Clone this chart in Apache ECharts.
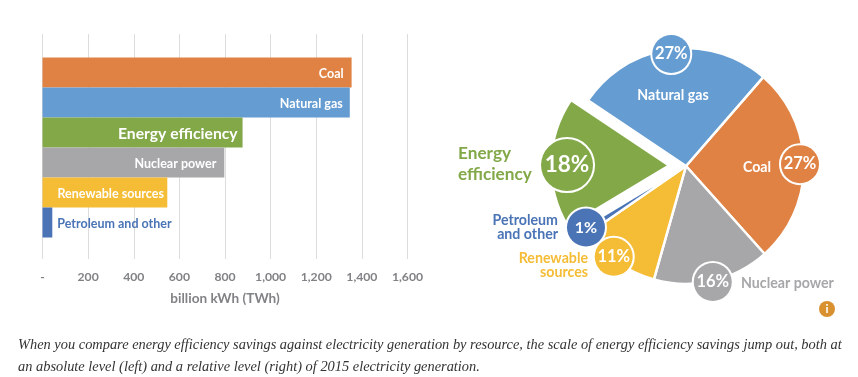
<!DOCTYPE html>
<html><head><meta charset="utf-8">
<style>html,body{margin:0;padding:0;background:#fff}#c{width:858px;height:377px}</style>
<script src="https://cdn.jsdelivr.net/npm/echarts@6/dist/echarts.min.js"></script>
</head><body><div id="c"></div>
<script>
const barCategories = ['Coal','Natural gas','Energy efficiency','Nuclear power','Renewable sources','Petroleum and other'];
const barValues = [1355,1347,877,797,547,43];
const barColors = ['#e08244','#659cd1','#82a848','#a7a7a9','#f5bc35','#4a74b6'];
const tickLabels = {0:'-',200:'200',400:'400',600:'600',800:'800',1000:'1,000',1200:'1,200',1400:'1,400',1600:'1,600'};
const pieNames = ['Coal','Nuclear power','Renewable\nsources','Petroleum\nand other','Energy\nefficiency','Natural gas'];
const pieValues = [27,16,11,1,18,27];
const pieColors = ['#e08244','#a7a7a9','#f5bc35','#4a74b6','#82a848','#659cd1'];
const caption = 'When you compare energy efficiency savings against electricity generation by resource, the scale of energy efficiency savings jump out, both at\nan absolute level (left) and a relative level (right) of 2015 electricity generation.';

const FONT = 'Lato';
const GRAY = '#808285';
const center = [686,166];
const nameStyle = [
  {x:757,y:167,align:'center',color:'#fff',fontSize:14.2,lh:15},
  {x:741,y:283,align:'left',color:'#a7a7a9',fontSize:14.2,lh:15},
  {x:588,y:265.5,align:'right',color:'#f5bc35',fontSize:14.2,lh:14.5},
  {x:558,y:227.5,align:'right',color:'#4a74b6',fontSize:14.2,lh:14.5},
  {x:458,y:164,align:'left',color:'#82a848',fontSize:17.2,lh:20.5},
  {x:673,y:95,align:'center',color:'#fff',fontSize:14.2,lh:15}
];
const badgeStyle = [
  {d:[-5,-1],s:38,f:16.5},{d:[0,0],s:38,f:16.5},{d:[-3,-6],s:38,f:16.5},
  {d:[0,-3],s:38,f:16},{d:[0,2],s:52,f:22.5},{d:[1,6],s:38,f:16.5}
];
const barLabel = [
  {position:'insideRight',distance:8,color:'#fff',fontSize:12.5},
  {position:'insideRight',distance:7,color:'#fff',fontSize:12.5},
  {position:'insideRight',distance:5,color:'#fff',fontSize:15.7},
  {position:'insideRight',distance:8,color:'#fff',fontSize:12.5},
  {position:'insideLeft',distance:15,color:'#fff',fontSize:12.5},
  {position:'right',distance:5,color:'#4a74b6',fontSize:12.5}
];

const chart = echarts.init(document.getElementById('c'),null,{renderer:'canvas'});
chart.setOption({
  animation:false,
  backgroundColor:'#fff',
  title:{text:caption,left:18,top:334,textStyle:{fontFamily:'"Liberation Serif"',fontStyle:'italic',fontWeight:'normal',fontSize:14.4,lineHeight:22,color:'#333'},padding:0},
  grid:[
    {left:42.5,width:365,top:34,height:225},
    {left:42.5,width:365,top:57.5,height:180}
  ],
  xAxis:[
    {gridIndex:0,type:'value',min:0,max:1600,interval:200,
     axisLine:{show:false},axisTick:{show:false},
     splitLine:{show:true,lineStyle:{color:'#dddddd',width:1}},
     axisLabel:{margin:12,color:GRAY,fontFamily:FONT,fontWeight:'bold',fontSize:12.2,formatter:v=>tickLabels[v]},
     name:'billion kWh (TWh)',nameLocation:'middle',nameGap:33,
     nameTextStyle:{color:GRAY,fontFamily:FONT,fontWeight:'bold',fontSize:13.6}},
    {gridIndex:1,type:'value',min:0,max:1600,interval:200,show:false}
  ],
  yAxis:[
    {gridIndex:0,type:'category',data:barCategories,inverse:true,show:false},
    {gridIndex:1,type:'category',data:barCategories,inverse:true,show:false}
  ],
  series:[
    {type:'bar',xAxisIndex:1,yAxisIndex:1,barCategoryGap:0,silent:true,
     data:barValues.map((v,i)=>({value:v,itemStyle:{color:barColors[i]},
       label:Object.assign({show:true,formatter:barCategories[i],fontFamily:FONT,fontWeight:'bold',offset:[0,1]},barLabel[i])}))},
    {type:'pie',center:center,radius:[0,118],startAngle:49,silent:true,
     selectedMode:'single',selectedOffset:17,
     itemStyle:{borderColor:'#fff',borderWidth:2.5},labelLine:{show:false},label:{show:false},
     data:pieValues.map((v,i)=>({value:v,name:pieNames[i],selected:i===4,
       itemStyle:{color:pieColors[i]},
       select:{itemStyle:{color:pieColors[i],borderColor:'#fff',borderWidth:2.5}}}))},
    {type:'pie',center:center,radius:[116,116],startAngle:49,silent:true,z:5,avoidLabelOverlap:false,
     itemStyle:{color:'transparent',borderWidth:0},labelLine:{show:false},
     labelLayout:p=>{const s=nameStyle[p.dataIndex];return {x:s.x,y:s.y,align:s.align,verticalAlign:'middle'};},
     data:pieValues.map((v,i)=>({value:v,name:pieNames[i],
       label:{show:true,position:'inside',formatter:'{b}',fontFamily:FONT,fontWeight:'bold',
         color:nameStyle[i].color,fontSize:nameStyle[i].fontSize,lineHeight:nameStyle[i].lh,align:nameStyle[i].align}}))},
    {type:'pie',center:center,radius:[116,116],startAngle:49,silent:true,z:6,avoidLabelOverlap:false,
     itemStyle:{color:'transparent',borderWidth:0},labelLine:{show:false},
     labelLayout:p=>{const d=badgeStyle[p.dataIndex].d;return {dx:d[0],dy:d[1]};},
     data:pieValues.map((v,i)=>({value:v,name:pieNames[i]+' share',
       label:{show:true,position:'inside',formatter:v+'%',color:'#fff',fontFamily:FONT,fontWeight:'bold',
         fontSize:badgeStyle[i].f,width:badgeStyle[i].s,height:badgeStyle[i].s,lineHeight:badgeStyle[i].s,
         align:'center',verticalAlign:'middle',backgroundColor:pieColors[i],
         borderColor:'#fff',borderWidth:2,borderRadius:badgeStyle[i].s/2}}))}
  ],
  graphic:[
    {type:'circle',shape:{cx:827,cy:309,r:8},style:{fill:'#d9902f'},z:10},
    {type:'text',x:827,y:309,z:11,style:{text:'i',fill:'#fff',font:'bold 12px Lato',align:'center',verticalAlign:'middle'}}
  ]
});
</script></body></html>
